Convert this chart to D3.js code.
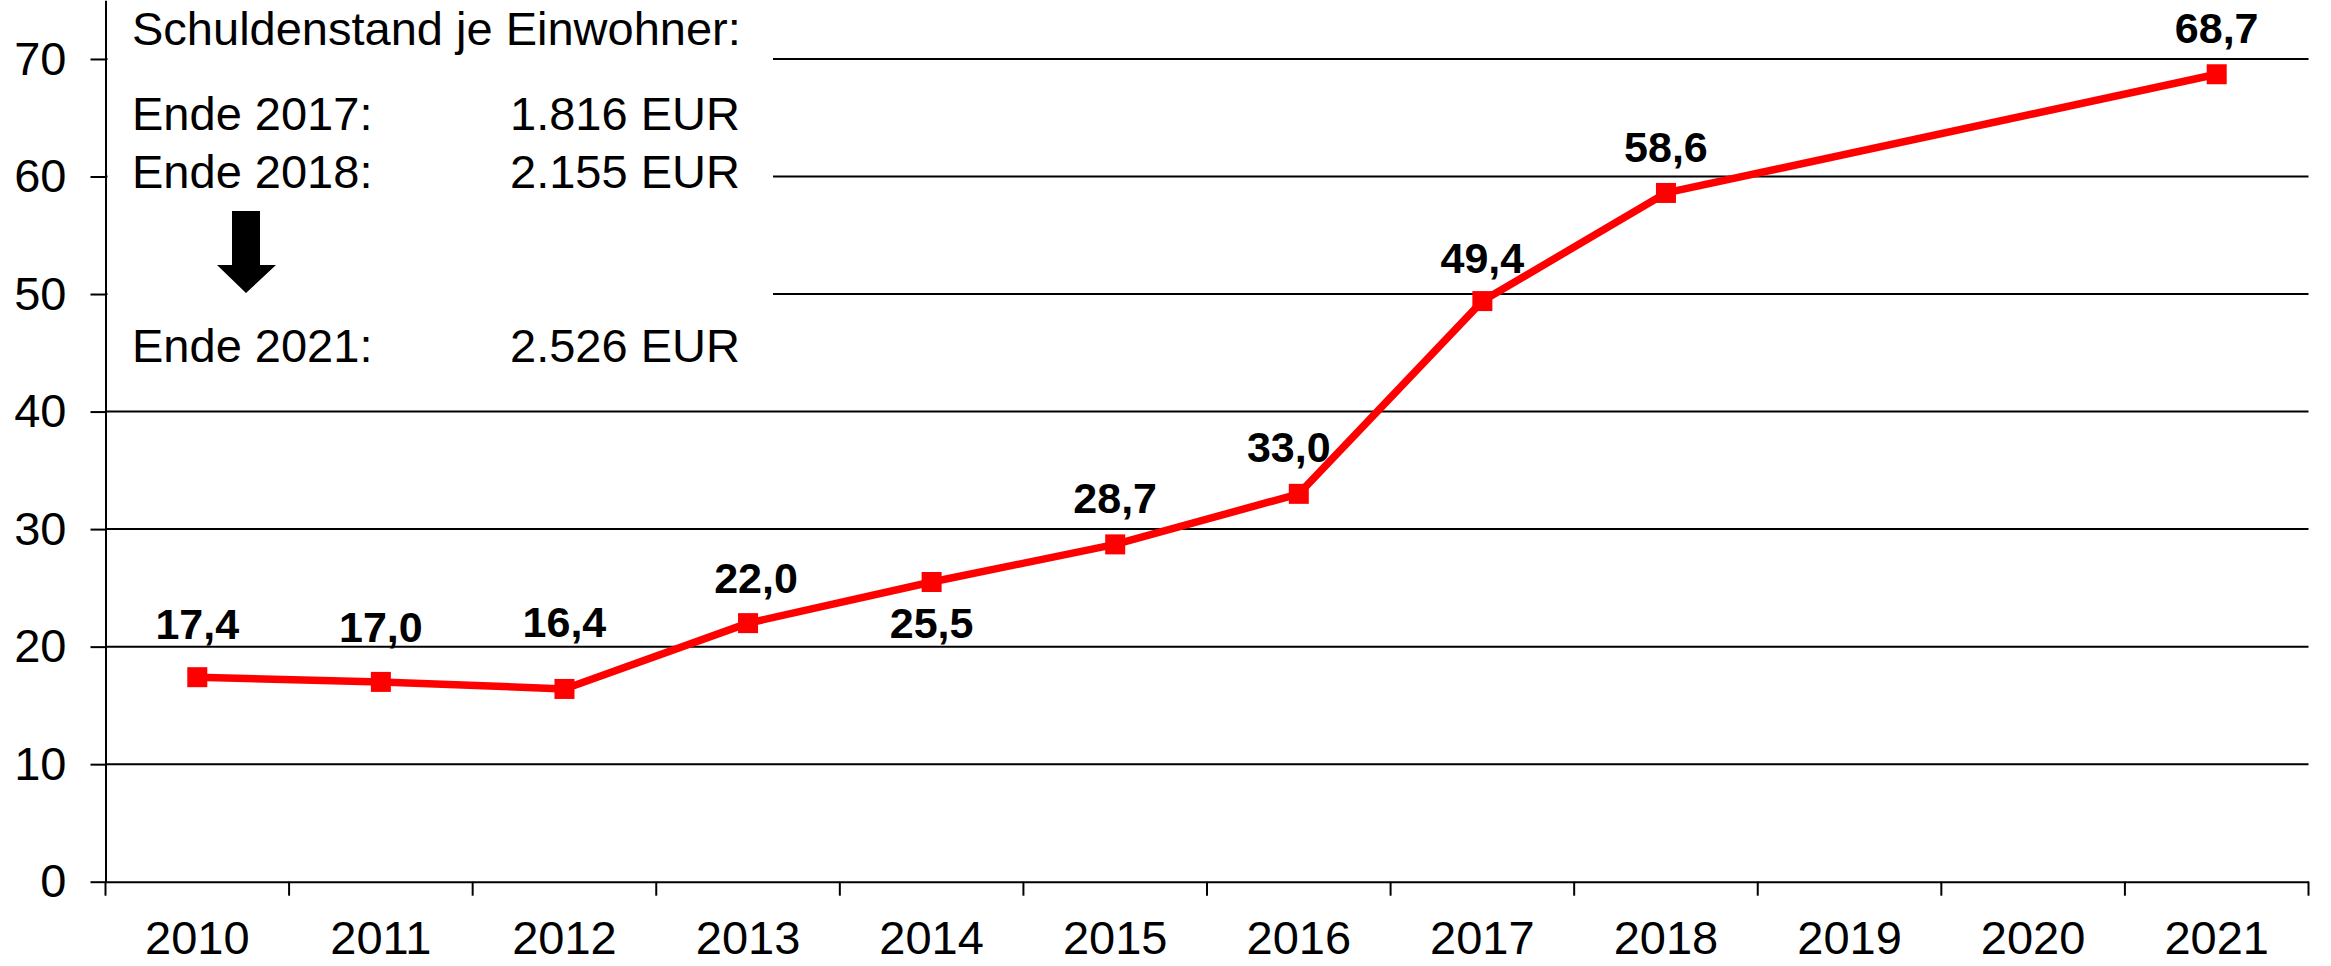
<!DOCTYPE html>
<head>
    <meta charset="utf-8">
    <script src="https://d3js.org/d3.v7.min.js"></script>
    <style>
      body { margin: 0; background: #fff; }
      text {
        font-family: "Liberation Sans", Arial, sans-serif;
        fill: #000;
      }
      .ticklabel { font-size: 47px; }
      .valuelabel { font-size: 43px; font-weight: bold; }
      .note { font-size: 47px; }
    </style>
</head>
<body>
    <script>
        // data
        var years = ["2010", "2011", "2012", "2013", "2014", "2015", "2016", "2017", "2018", "2019", "2020", "2021"];
        var values = [17.4, 17.0, 16.4, 22.0, 25.5, 28.7, 33.0, 49.4, 58.6, null, null, 68.7];
        var yTicks = [0, 10, 20, 30, 40, 50, 60, 70];
        var noteTitle = "Schuldenstand je Einwohner:";
        var noteRows = [
          ["Ende 2017:", "1.816 EUR"],
          ["Ende 2018:", "2.155 EUR"],
          ["Ende 2021:", "2.526 EUR"]
        ];

        // label nudges (px, baseline relative to marker centre), hand placed like in the original
        var labelDy = [-38, -40, -52, -30, 56, -31, -32, -28, -31, 0, 0, -31];
        var labelDx = [0, 0, 0, 8, 0, 0, -10, 0, 0, 0, 0, 0];

        var svg_w = 2331, svg_h = 966;
        var svg = d3.select("body").append("svg")
          .attr("width", svg_w)
          .attr("height", svg_h);

        var left = 105.5, right = 2308.5, y0 = 881.7;

        var x = d3.scaleBand().domain(years).range([left, right]).padding(0);
        var y = d3.scaleLinear().domain([0, 75]).range([y0, 0.2]);

        // gridlines
        svg.append("g").selectAll("line")
          .data(yTicks.filter(function(d) { return d > 0; }))
          .enter().append("line")
          .attr("x1", left).attr("x2", right)
          .attr("y1", function(d) { return y(d); })
          .attr("y2", function(d) { return y(d); })
          .attr("stroke", "#000")
          .attr("stroke-width", 2);

        // white box behind the note
        svg.append("rect")
          .attr("x", left + 2).attr("y", 0)
          .attr("width", 773 - left - 2).attr("height", 390)
          .attr("fill", "#fff");

        // y axis
        var yAxis = svg.append("g")
          .attr("transform", "translate(" + left + ",0)")
          .call(d3.axisLeft(y).tickValues(yTicks).tickSize(15).tickSizeOuter(0).tickPadding(24)
            .tickFormat(function(d) { return d; }));
        yAxis.selectAll("path, line").attr("stroke", "#000").attr("stroke-width", 2);
        yAxis.selectAll("text").attr("class", "ticklabel").attr("font-family", null).attr("font-size", null);

        // x axis
        var xAxis = svg.append("g")
          .attr("transform", "translate(0," + y0 + ")")
          .call(d3.axisBottom(x).tickSize(0).tickSizeOuter(0).tickPadding(39));
        xAxis.select(".domain").attr("stroke", "#000").attr("stroke-width", 2);
        xAxis.selectAll("text").attr("class", "ticklabel").attr("font-family", null).attr("font-size", null);

        // ticks between categories
        var bounds = years.map(function(d) { return x(d); }).concat([right]);
        svg.append("g").selectAll("line")
          .data(bounds)
          .enter().append("line")
          .attr("x1", function(d) { return d; }).attr("x2", function(d) { return d; })
          .attr("y1", y0).attr("y2", y0 + 14)
          .attr("stroke", "#000")
          .attr("stroke-width", 2);

        var pts = years.map(function(d, i) {
          return { year: d, v: values[i], dx: labelDx[i], dy: labelDy[i] };
        }).filter(function(d) { return d.v !== null; });

        var cx = function(d) { return x(d.year) + x.bandwidth() / 2; };

        var line = d3.line()
          .x(cx)
          .y(function(d) { return y(d.v); });

        svg.append("path")
          .datum(pts)
          .attr("d", line)
          .attr("fill", "none")
          .attr("stroke", "#ff0000")
          .attr("stroke-width", 7.5)
          .attr("stroke-linejoin", "round");

        var ms = 20;
        svg.append("g").selectAll("rect")
          .data(pts)
          .enter().append("rect")
          .attr("x", function(d) { return cx(d) - ms / 2; })
          .attr("y", function(d) { return y(d.v) - ms / 2; })
          .attr("width", ms).attr("height", ms)
          .attr("fill", "#ff0000");

        var fmt = d3.format(".1f");
        svg.append("g").selectAll("text")
          .data(pts)
          .enter().append("text")
          .attr("class", "valuelabel")
          .attr("x", function(d) { return cx(d) + d.dx; })
          .attr("y", function(d) { return y(d.v) + d.dy; })
          .attr("text-anchor", "middle")
          .text(function(d) { return fmt(d.v).replace(".", ","); });

        // note text
        var note = svg.append("g");
        note.append("text").attr("class", "note")
          .attr("x", 132).attr("y", 45)
          .text(noteTitle);
        var rowY = [130, 188, 362];
        noteRows.forEach(function(r, i) {
          note.append("text").attr("class", "note").attr("x", 132).attr("y", rowY[i]).text(r[0]);
          note.append("text").attr("class", "note").attr("x", 510).attr("y", rowY[i]).text(r[1]);
        });
        // arrow
        note.append("path")
          .attr("d", "M232,211 L260,211 L260,265 L276,265 L246,293 L217,265 L232,265 Z")
          .attr("fill", "#000");
    </script>
</body>
